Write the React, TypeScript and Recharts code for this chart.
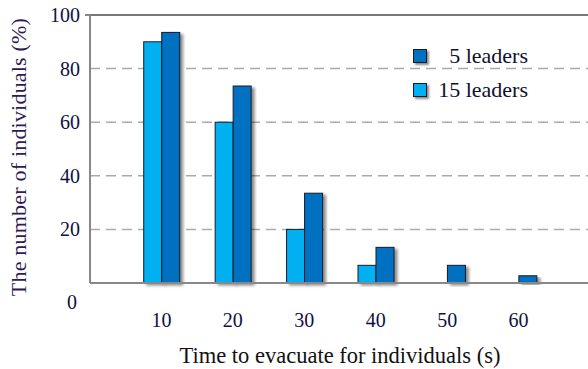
import React from "react"
import { BarChart, Bar, XAxis, YAxis, CartesianGrid, ReferenceLine } from "recharts"

const times = [10, 20, 30, 40, 50, 60]
const fiveLeaders = [93.5, 73.5, 33.5, 13.3, 6.6, 2.7]
const fifteenLeaders = [90, 60, 20, 6.6, 0, 0]
const yTicks = [0, 20, 40, 60, 80, 100]

const data = times.map((t, i) => ({ time: t, five: fiveLeaders[i], fifteen: fifteenLeaders[i] }))

const FONT = '"Liberation Serif", "Times New Roman", serif'
const LIGHT = "#00B0F0"
const DARK = "#0070C0"

function ShadowBar(props: any) {
  const { x, y, width, height, fill } = props
  if (!height || height <= 0) return null
  return <rect x={x} y={y} width={width} height={height} fill={fill} stroke="#1a1a2a" strokeWidth={1} filter="url(#barShadow)" />
}

function YTick({ x, y, payload }: any) {
  const zero = payload.value === 0
  return (
    <g>
      {payload.value === 100 && <line x1={x + 5} x2={x + 10} y1={y} y2={y} stroke="#888" strokeWidth={2} />}
      <text x={zero ? x - 3 : x} y={zero ? y + 19 : y} dy={7} textAnchor="end" fontFamily={FONT} fontSize={20} fill="#101040">
        {payload.value}
      </text>
    </g>
  )
}

function YTitle({ viewBox }: any) {
  const cy = viewBox.y + viewBox.height / 2 + 8
  return (
    <text
      x={26}
      y={cy}
      transform={`rotate(-90 26 ${cy})`}
      textAnchor="middle"
      fontFamily={FONT}
      fontSize={22}
      style={{ letterSpacing: "0.2px" }}
      fill="#2e1a55"
    >
      The number of individuals (%)
    </text>
  )
}

function LegendBox() {
  const items = [
    { label: "5 leaders", color: DARK },
    { label: "15 leaders", color: LIGHT },
  ]
  return (
    <div style={{ position: "absolute", left: 413, top: 39, fontFamily: FONT, fontSize: 22, color: "#101030" }}>
      {items.map((it) => (
        <div key={it.label} style={{ display: "flex", alignItems: "center", height: 34 }}>
          <span
            style={{
              width: 12,
              height: 12,
              background: it.color,
              border: "1px solid #1a1a2a",
              boxShadow: "2px 2px 2px rgba(0,0,0,0.45)",
              display: "inline-block",
            }}
          />
          <span style={{ width: 101, textAlign: "right", display: "inline-block" }}>{it.label}</span>
        </div>
      ))}
    </div>
  )
}

export default function App() {
  return (
    <div style={{ position: "absolute", left: 0, top: 0, width: 588, height: 369, overflow: "hidden", background: "#fff" }}>
      <svg width={0} height={0} style={{ position: "absolute" }}>
        <defs>
          <filter id="barShadow" x="-30%" y="-10%" width="160%" height="130%">
            <feGaussianBlur in="SourceAlpha" stdDeviation="1.5" />
            <feOffset dx="3" dy="2" result="off" />
            <feComponentTransfer>
              <feFuncA type="linear" slope="0.45" />
            </feComponentTransfer>
            <feMerge>
              <feMergeNode />
              <feMergeNode in="SourceGraphic" />
            </feMerge>
          </filter>
        </defs>
      </svg>
      <BarChart width={590} height={369} data={data} margin={{ top: 15, right: 0, bottom: 0, left: 0 }} barGap={0} barSize={18}>
        <CartesianGrid vertical={false} stroke="#aaa" strokeWidth={1.5} strokeDasharray="10 6" />
        <ReferenceLine y={100} stroke="#777" strokeWidth={2} />
        <XAxis
          dataKey="time"
          type="number"
          domain={[0, 70]}
          ticks={times}
          height={86}
          axisLine={{ stroke: "#888", strokeWidth: 2 }}
          tickLine={false}
          tickSize={0}
          tickMargin={30}
          tick={{ fontFamily: FONT, fontSize: 20, fill: "#101040" }}
          label={{ value: "Time to evacuate for individuals (s)", position: "insideBottom", offset: 6, fontFamily: FONT, fontSize: 22.5, fill: "#111" }}
        />
        <YAxis
          domain={[0, 100]}
          ticks={yTicks}
          width={90}
          axisLine={{ stroke: "#888", strokeWidth: 2 }}
          tickLine={false}
          tickSize={0}
          tickMargin={10}
          tick={<YTick />}
          label={<YTitle />}
        />
        <Bar dataKey="fifteen" name="15 leaders" fill={LIGHT} shape={<ShadowBar />} isAnimationActive={false} />
        <Bar dataKey="five" name="5 leaders" fill={DARK} shape={<ShadowBar />} isAnimationActive={false} />
      </BarChart>
      <LegendBox />
    </div>
  )
}
